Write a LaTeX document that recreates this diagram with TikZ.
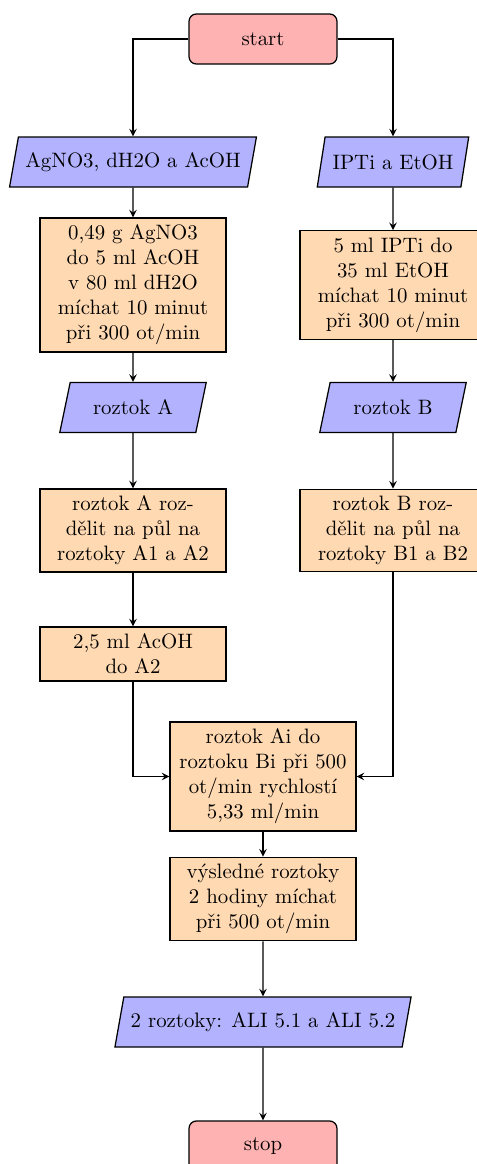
\documentclass[tikz,border=0pt]{standalone}
\usepackage{fontspec}
\usetikzlibrary{shapes.geometric,arrows}
\begin{document}
\begin{tikzpicture}[x=0.48pt,y=-0.48pt, line width=0.6pt,
  termbox/.style={rectangle, rounded corners=3.5pt, draw=black, fill=red!30, minimum width=71pt, minimum height=24pt, inner sep=0pt},
  iobox/.style={trapezium, trapezium left angle=75, trapezium right angle=105, trapezium stretches=true, draw=black, fill=blue!30, minimum height=24pt, inner sep=3.33pt},
  procbox/.style={rectangle, draw=black, fill=orange!30, text width=82.6pt, align=center, minimum width=89.3pt, inner sep=3.33pt},
  conn/.style={draw, ->, >=stealth}]
\useasboundingbox (0,0) rectangle (477,1164);
\node[termbox] (start) at (263,39) {start};
\node[iobox] (in1) at (133,162) {AgNO3, dH2O a AcOH};
\node[iobox, minimum width=73pt] (in2) at (393,162) {IPTi a EtOH};
\node[procbox] (box1) at (133,285) {0,49 g AgNO3\\do 5 ml AcOH\\v 80 ml dH2O\\míchat 10 minut\\při 300 ot/min};
\node[procbox] (box2) at (393,285) {5 ml IPTi do\\35 ml EtOH\\míchat 10 minut\\při 300 ot/min};
\node[iobox, minimum width=70.5pt] (rA) at (133,407.5) {roztok A};
\node[iobox, minimum width=70.5pt] (rB) at (393,407.5) {roztok B};
\node[procbox] (splitA) at (133,530.5) {roztok A roz-\\dělit na půl na\\roztoky A1 a A2};
\node[procbox] (splitB) at (393,530.5) {roztok B roz-\\dělit na půl na\\roztoky B1 a B2};
\node[procbox] (add) at (133,654) {2,5 ml AcOH\\do A2};
\node[procbox] (mix) at (263,776.5) {roztok Ai do\\roztoku Bi při 500\\ot/min rychlostí\\5,33 ml/min};
\node[procbox] (res) at (263,899) {výsledné roztoky\\2 hodiny míchat\\při 500 ot/min};
\node[iobox] (out) at (263,1022) {2 roztoky: ALI 5.1 a ALI 5.2};
\node[termbox] (stop) at (263,1146) {stop};
\path[conn] (start.west) -| (in1.north);
\path[conn] (start.east) -| (in2.north);
\path[conn] (in1) -- (box1);
\path[conn] (box1) -- (rA);
\path[conn] (rA) -- (splitA);
\path[conn] (splitA) -- (add);
\path[conn] (in2) -- (box2);
\path[conn] (box2) -- (rB);
\path[conn] (rB) -- (splitB);
\path[conn] (add.south) |- (mix.west);
\path[conn] (splitB.south) |- (mix.east);
\path[conn] (mix) -- (res);
\path[conn] (res) -- (out);
\path[conn] (out) -- (stop);
\end{tikzpicture}
\end{document}
